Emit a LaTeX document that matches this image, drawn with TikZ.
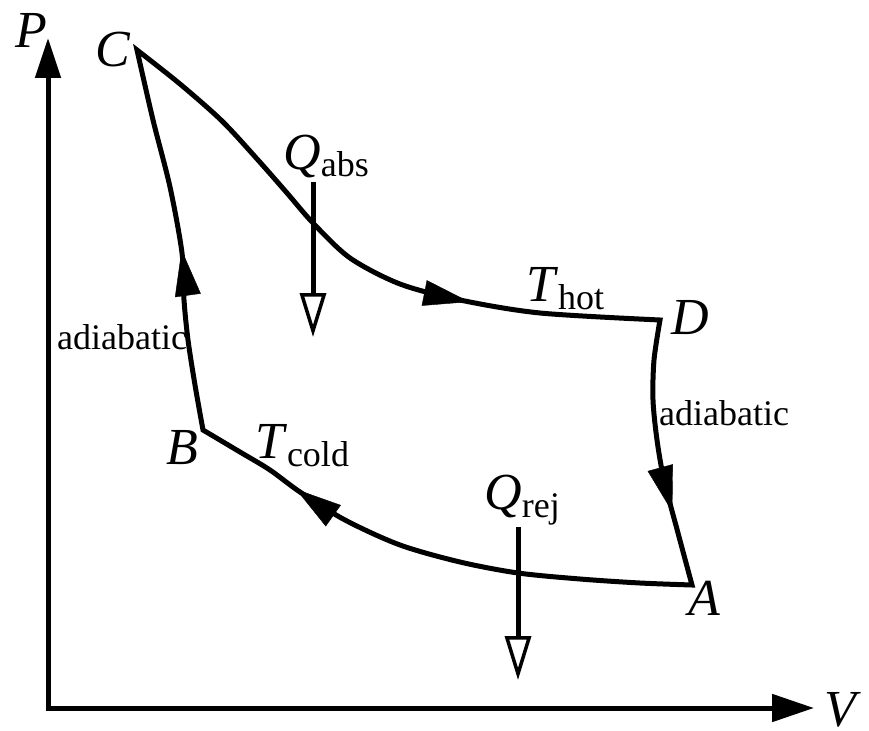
\documentclass[tikz,border=0pt]{standalone}
\usepackage{fontspec}
\setmainfont{Liberation Serif}
\usetikzlibrary{arrows.meta,decorations.markings}
\newcommand{\lblsub}[2]{\textit{#1}\raisebox{-8pt}{\fontsize{36}{36}\selectfont #2}}
\tikzset{
  cyc/.style={line width=5pt, line join=miter},
  axisline/.style={line width=5pt, {Triangle[length=40pt,width=25pt]}-{Triangle[length=42pt,width=27pt]}},
  bigtxt/.style={font=\fontsize{52}{52}\selectfont, inner sep=0pt},
  smalltxt/.style={font=\fontsize{36}{36}\selectfont, inner sep=0pt},
  midarrow/.style={postaction={decorate}, decoration={markings, mark=at position #1 with {\arrow{Triangle[length=46pt,width=26pt]}}}},
  heat/.style={line width=5pt, -{Triangle[open,length=44pt,width=26pt,line width=3.5pt]}},
}
\begin{document}
\begin{tikzpicture}[x=1pt,y=-1pt]
\useasboundingbox (0,0) rectangle (869,730);
% axes
\coordinate (O) at (48,708);
\coordinate (Ptip) at (48,38);
\coordinate (Vtip) at (814,708);
\draw[axisline] (Ptip) -- (O) -- (Vtip);
\node[bigtxt] (Plbl) at (31,30) {\textit{P}};
\node[bigtxt, anchor=west] (Vlbl) at (Vtip) [xshift=10pt, yshift=-2pt] {\textit{V}};
% corners
\coordinate (C) at (137,50);
\coordinate (D) at (660,320);
\coordinate (A) at (692,585);
\coordinate (B) at (203,430);
\def\pathCD{(C) (180,84) (222,121) (258,160) (287,193) (313,223) (350,258) (400,284) (460,300) (540,313) (D)}
\def\pathDA{(D) (654,360) (653,400) (657,440) (664,480) (678,533) (A)}
\def\pathAB{(A) (640,583) (580,579) (518,573) (460,562) (400,545) (345,520) (300,492) (270,470) (240,452) (B)}
\def\pathBC{(B) (195,385) (188,340) (184,300) (182,253) (170,187) (153,120) (C)}
\draw[cyc] plot[smooth] coordinates {\pathCD} -- plot[smooth] coordinates {\pathDA}
  -- plot[smooth] coordinates {\pathAB} -- plot[smooth] coordinates {\pathBC} -- cycle;
\path[midarrow=0.69] plot[smooth] coordinates {\pathCD};
\path[midarrow=0.72] plot[smooth] coordinates {\pathDA};
\path[midarrow=0.79] plot[smooth] coordinates {\pathAB};
\path[midarrow=0.47] plot[smooth] coordinates {\pathBC};
% labels
\node[bigtxt] (Clbl) at (113,50) {\textit{C}};
\node[bigtxt] (Dlbl) at (690,318) {\textit{D}};
\node[bigtxt] (Albl) at (704,598) {\textit{A}};
\node[bigtxt] (Blbl) at (182,448) {\textit{B}};
\node[bigtxt] (Thot) at (565,289) {\lblsub{T}{hot}};
\node[bigtxt] (Tcold) at (302,446) {\lblsub{T}{cold}};
\node[smalltxt] (adR) at (724,413) {adiabatic};
\node[smalltxt] (adL) at (122,337) {adiabatic};
% heat arrows
\node[bigtxt] (Qabs) at (326,156) {\lblsub{Q}{abs}};
\node[bigtxt] (Qrej) at (522,500) {\lblsub{Q}{rej}};
\coordinate (qa1) at (313,182);
\coordinate (qa2) at (313,337);
\coordinate (qr1) at (518,527);
\coordinate (qr2) at (518,680);
\draw[heat] (qa1) -- (qa2);
\draw[heat] (qr1) -- (qr2);
\end{tikzpicture}
\end{document}
